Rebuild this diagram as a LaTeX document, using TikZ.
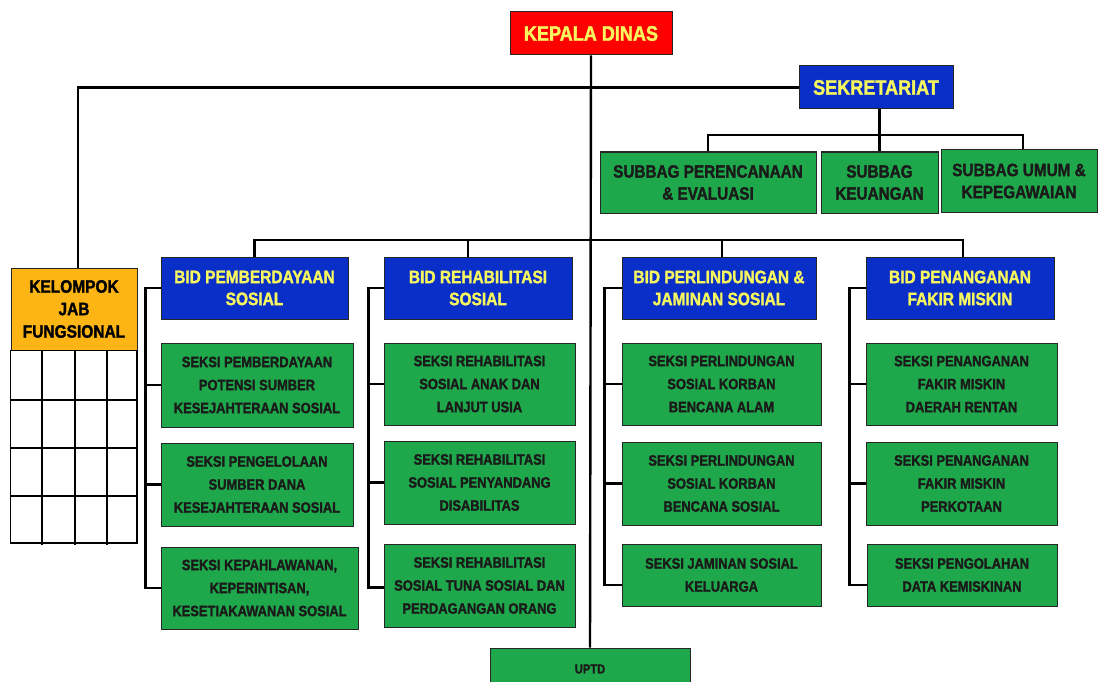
\documentclass[tikz,border=0pt]{standalone}
\usepackage{fontspec}
\setmainfont{Liberation Sans}
\newfontfamily\nar[FakeStretch=0.86,FakeBold=1.6]{Liberation Sans Bold}
\definecolor{kred}{HTML}{FF0000}
\definecolor{kblue}{HTML}{0A2FC8}
\definecolor{kgreen}{HTML}{1FA84B}
\definecolor{korange}{HTML}{FDB515}
\definecolor{kyellow}{HTML}{F6F65E}
\definecolor{ktext}{HTML}{1A1A1A}
\tikzset{
  box/.style={draw=black!85, line width=1pt, inner sep=0pt, align=center},
  top/.style={box, fill=kred, text=kyellow, font=\nar\fontsize{21}{25}\selectfont},
  bidbox/.style={box, fill=kblue, text=kyellow, font=\nar\fontsize{18}{22}\selectfont},
  subbox/.style={box, fill=kgreen, text=ktext, font=\nar\fontsize{17.8}{22}\selectfont},
  seksi/.style={box, fill=kgreen, text=ktext, font=\nar\fontsize{15}{23}\selectfont},
  kelbox/.style={box, fill=korange, text=black, font=\nar\fontsize{18}{22.5}\selectfont},
  conn/.style={line width=2.4pt, black},
  gridline/.style={line width=1.5pt, black}
}
\begin{document}
\begin{tikzpicture}[x=1pt, y=-1pt]
\useasboundingbox (0,0) rectangle (1100,682);
% nodes
\node[top, minimum width=162pt, minimum height=43pt] (kd) at (591,33.5) {KEPALA DINAS};
\node[top, fill=kblue, minimum width=154pt, minimum height=43pt] (sek) at (876,87.5) {SEKRETARIAT};
\node[subbox, minimum width=216pt, minimum height=61pt] (sub1) at (708,182.5) {SUBBAG PERENCANAAN\\\& EVALUASI};
\node[subbox, minimum width=117pt, minimum height=61pt] (sub2) at (879.5,182.5) {SUBBAG\\KEUANGAN};
\node[subbox, minimum width=156pt, minimum height=62pt] (sub3) at (1019,181) {SUBBAG UMUM \&\\KEPEGAWAIAN};
\node[bidbox, minimum width=187pt, minimum height=62pt] (bid1) at (254.5,288) {BID PEMBERDAYAAN\\SOSIAL};
\node[bidbox, minimum width=188pt, minimum height=62pt] (bid2) at (478,288) {BID REHABILITASI\\SOSIAL};
\node[bidbox, minimum width=194pt, minimum height=62pt] (bid3) at (719,288) {BID PERLINDUNGAN \&\\JAMINAN SOSIAL};
\node[bidbox, minimum width=188pt, minimum height=62pt] (bid4) at (960,288) {BID PENANGANAN\\FAKIR MISKIN};
\node[kelbox, minimum width=126pt, minimum height=82pt] (kel) at (74,309) {KELOMPOK\\JAB\\FUNGSIONAL};
% seksi column 1
\node[seksi, minimum width=192pt, minimum height=84pt] (s11) at (257,385) {SEKSI PEMBERDAYAAN\\POTENSI SUMBER\\KESEJAHTERAAN SOSIAL};
\node[seksi, minimum width=192pt, minimum height=83pt] (s12) at (257,484.5) {SEKSI PENGELOLAAN\\SUMBER DANA\\KESEJAHTERAAN SOSIAL};
\node[seksi, minimum width=197pt, minimum height=82pt] (s13) at (259.5,588) {SEKSI KEPAHLAWANAN,\\KEPERINTISAN,\\KESETIAKAWANAN SOSIAL};
% column 2
\node[seksi, minimum width=191pt, minimum height=82pt] (s21) at (479.5,384) {SEKSI REHABILITASI\\SOSIAL ANAK DAN\\LANJUT USIA};
\node[seksi, minimum width=191pt, minimum height=83pt] (s22) at (479.5,482.5) {SEKSI REHABILITASI\\SOSIAL PENYANDANG\\DISABILITAS};
\node[seksi, minimum width=191pt, minimum height=83pt] (s23) at (479.5,585.5) {SEKSI REHABILITASI\\SOSIAL TUNA SOSIAL DAN\\PERDAGANGAN ORANG};
% column 3
\node[seksi, minimum width=199pt, minimum height=82pt] (s31) at (721.5,384) {SEKSI PERLINDUNGAN\\SOSIAL KORBAN\\BENCANA ALAM};
\node[seksi, minimum width=199pt, minimum height=83pt] (s32) at (721.5,483.5) {SEKSI PERLINDUNGAN\\SOSIAL KORBAN\\BENCANA SOSIAL};
\node[seksi, minimum width=199pt, minimum height=62pt] (s33) at (721.5,575) {SEKSI JAMINAN SOSIAL\\KELUARGA};
% column 4
\node[seksi, minimum width=191pt, minimum height=82pt] (s41) at (961.5,384) {SEKSI PENANGANAN\\FAKIR MISKIN\\DAERAH RENTAN};
\node[seksi, minimum width=191pt, minimum height=83pt] (s42) at (961.5,483.5) {SEKSI PENANGANAN\\FAKIR MISKIN\\PERKOTAAN};
\node[seksi, minimum width=190pt, minimum height=62pt] (s43) at (962,575) {SEKSI PENGOLAHAN\\DATA KEMISKINAN};
% UPTD
\node[seksi, font=\nar\fontsize{13}{15}\selectfont, minimum width=200pt, minimum height=42pt] (uptd) at (590,669) {UPTD};
% grid below kelompok
\draw[gridline] (kel.south west) rectangle (137,543);
\foreach \gx in {42,75,107} \draw[gridline] (\gx,350) -- (\gx,545);
\foreach \gy in {400,448,496} \draw[gridline] (11,\gy) -- (137,\gy);
% connectors
\coordinate (sb) at (879.5,135);
\coordinate (bb) at (590,240);
\draw[conn] (kd.south) -- (uptd.north);
\draw[conn] ([xshift=4pt]kel.north) |- (sek.west);
\draw[conn] (sub2.north |- sek.south) -- (sub2.north);
\draw[conn] (sub1.north) |- (sb) -| ([xshift=4pt]sub3.north);
\draw[conn] (bid1.north) |- (bb) -| ([xshift=3pt]bid4.north);
\draw[conn] ([xshift=-10pt]bid2.north) -- ([xshift=-10pt]bid2.north |- bb);
\draw[conn] ([xshift=3pt]bid3.north) -- ([xshift=3pt]bid3.north |- bb);
% brackets
\draw[conn] (bid1.west) -| ([xshift=-15pt]s13.west) -- (s13.west);
\draw[conn] (s11.west) -- ++(-15,0);
\draw[conn] (s12.west) -- ++(-15,0);
\draw[conn] (bid2.west) -| ([xshift=-15pt,yshift=-2pt]s23.west) -- ([yshift=-2pt]s23.west);
\draw[conn] (s21.west) -- ++(-15,0);
\draw[conn] (s22.west) -- ++(-15,0);
\draw[conn] (bid3.west) -| ([xshift=-17pt,yshift=-10pt]s33.west) -- ([yshift=-10pt]s33.west);
\draw[conn] (s31.west) -- ++(-17,0);
\draw[conn] (s32.west) -- ++(-17,0);
\draw[conn] (bid4.west) -| ([xshift=-17pt,yshift=-10pt]s43.west) -- ([yshift=-10pt]s43.west);
\draw[conn] (s41.west) -- ++(-16,0);
\draw[conn] (s42.west) -- ++(-16,0);
\end{tikzpicture}
\end{document}
